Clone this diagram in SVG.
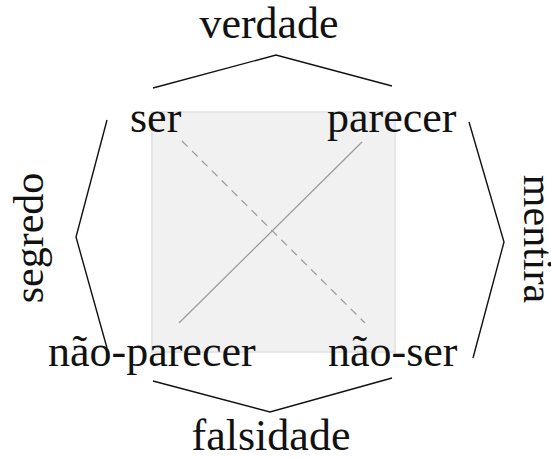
<svg xmlns="http://www.w3.org/2000/svg" width="551" height="459" viewBox="0 0 551 459">
<style>
.t{font-family:"Liberation Serif","Times New Roman",serif;font-size:44px;fill:#111}
.r{font-size:42px}
.b{fill:none;stroke:#111;stroke-width:1.4}
.d{stroke:#999;stroke-width:1.2;fill:none}
</style>
<rect width="551" height="459" fill="#fff"/>
<g id="square">
<rect x="152" y="112" width="243" height="240" fill="#f1f1f1" stroke="#e6e6e6" stroke-width="2"/>
</g>
<g id="connectors">
<line class="d" x1="179" y1="323" x2="362" y2="142"/>
<line class="d" x1="182" y1="141" x2="365" y2="323" stroke-dasharray="8,6"/>
<polyline class="b" points="153,88 276,55 392,86"/>
<polyline class="b" points="107,120 76,237 107,348"/>
<polyline class="b" points="469,122 504,242 473,358"/>
<polyline class="b" points="153,381 270,412 392,378"/>
</g>
<g id="verdade"><text class="t" x="269" y="38" text-anchor="middle">verdade</text></g>
<g id="falsidade"><text class="t" x="271" y="450" text-anchor="middle">falsidade</text></g>
<g id="ser"><text class="t" x="130" y="132">ser</text></g>
<g id="parecer"><text class="t" x="327" y="132">parecer</text></g>
<g id="nao-parecer"><text class="t" x="48" y="366">não-parecer</text></g>
<g id="nao-ser"><text class="t" x="328" y="366">não-ser</text></g>
<g id="segredo"><text class="t r" transform="translate(43,238) rotate(-90)" text-anchor="middle">segredo</text></g>
<g id="mentira"><text class="t r" transform="translate(524,239) rotate(90)" text-anchor="middle">mentira</text></g>
</svg>
